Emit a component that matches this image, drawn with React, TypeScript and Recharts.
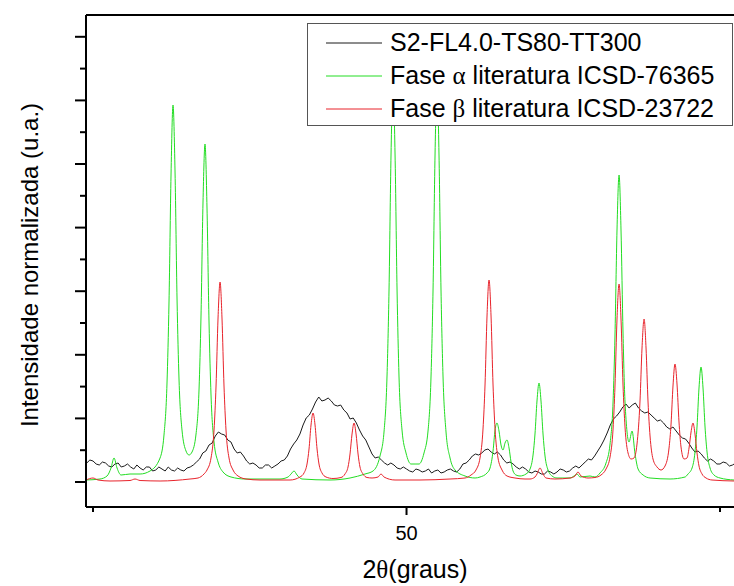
import { LineChart, Line, XAxis, YAxis, Legend, ReferenceLine } from 'recharts';

// measured sample: 2θ (graus) and counts
const blackAngles = [
  44.9, 44.95, 45.0, 45.05, 45.1, 45.15, 45.2, 45.25, 45.3, 45.35,
  45.4, 45.45, 45.5, 45.55, 45.6, 45.65, 45.7, 45.75, 45.8, 45.85,
  45.9, 45.95, 46.0, 46.05, 46.1, 46.15, 46.2, 46.25, 46.3, 46.35,
  46.4, 46.45, 46.5, 46.55, 46.6, 46.65, 46.7, 46.75, 46.8, 46.85,
  46.9, 46.95, 47.0, 47.05, 47.1, 47.15, 47.2, 47.25, 47.3, 47.35,
  47.4, 47.45, 47.5, 47.55, 47.6, 47.65, 47.7, 47.75, 47.8, 47.85,
  47.9, 47.95, 48.0, 48.05, 48.1, 48.15, 48.2, 48.25, 48.3, 48.35,
  48.4, 48.45, 48.5, 48.55, 48.6, 48.65, 48.7, 48.75, 48.8, 48.85,
  48.9, 48.95, 49.0, 49.05, 49.1, 49.15, 49.2, 49.25, 49.3, 49.35,
  49.4, 49.45, 49.5, 49.55, 49.6, 49.65, 49.7, 49.75, 49.8, 49.85,
  49.9, 49.95, 50.0, 50.05, 50.1, 50.15, 50.2, 50.25, 50.3, 50.35,
  50.4, 50.45, 50.5, 50.55, 50.6, 50.65, 50.7, 50.75, 50.8, 50.85,
  50.9, 50.95, 51.0, 51.05, 51.1, 51.15, 51.2, 51.25, 51.3, 51.35,
  51.4, 51.45, 51.5, 51.55, 51.6, 51.65, 51.7, 51.75, 51.8, 51.85,
  51.9, 51.95, 52.0, 52.05, 52.1, 52.15, 52.2, 52.25, 52.3, 52.35,
  52.4, 52.45, 52.5, 52.55, 52.6, 52.65, 52.7, 52.75, 52.8, 52.85,
  52.9, 52.95, 53.0, 53.05, 53.1, 53.15, 53.2, 53.25, 53.3, 53.35,
  53.4, 53.45, 53.5, 53.55, 53.6, 53.65, 53.7, 53.75, 53.8, 53.85,
  53.9, 53.95, 54.0, 54.05, 54.1, 54.15, 54.2, 54.25, 54.3, 54.35,
  54.4, 54.45, 54.5, 54.55, 54.6, 54.65, 54.7, 54.75, 54.8, 54.85,
  54.9, 54.95, 55.0, 55.05, 55.1, 55.15, 55.2, 55.25, 55.3,
];
const blackIntensity = [
  19, 22, 21, 18, 17, 20, 19, 16, 15, 18,
  19, 15, 16, 18, 15, 13, 17, 14, 12, 15,
  15, 11, 12, 15, 13, 11, 15, 12, 11, 14,
  12, 11, 14, 15, 17, 20, 23, 29, 31, 37,
  39, 46, 50, 48, 47, 42, 40, 33, 29, 30,
  26, 21, 18, 19, 17, 14, 14, 17, 17, 14,
  16, 18, 21, 22, 26, 33, 38, 42, 48, 57,
  64, 67, 73, 80, 85, 81, 82, 84, 81, 77,
  76, 77, 72, 69, 63, 64, 59, 52, 46, 42,
  35, 28, 24, 25, 22, 19, 17, 19, 17, 14,
  13, 15, 13, 11, 10, 13, 12, 10, 11, 13,
  9, 11, 12, 9, 10, 12, 13, 11, 10, 13,
  18, 19, 22, 26, 28, 27, 29, 32, 33, 30,
  28, 30, 27, 22, 19, 20, 18, 15, 13, 15,
  13, 10, 9, 11, 10, 8, 8, 11, 10, 8,
  10, 13, 12, 10, 11, 14, 16, 14, 17, 20,
  23, 22, 26, 31, 36, 42, 49, 57, 63, 66,
  70, 75, 78, 74, 77, 79, 74, 71, 69, 70,
  67, 64, 61, 62, 59, 55, 53, 55, 51, 47,
  44, 43, 39, 34, 30, 31, 28, 24, 21, 23,
  21, 18, 18, 20, 19, 16, 17, 19, 19,
];

// fase alfa, ICSD-76365
const alphaAngles = [
  44.888, 45.112, 45.223, 45.287, 45.335, 45.383, 45.447, 45.59, 45.75, 45.909,
  46.069, 46.132, 46.18, 46.212, 46.244, 46.276, 46.308, 46.34, 46.372, 46.419,
  46.483, 46.531, 46.579, 46.643, 46.691, 46.722, 46.754, 46.786, 46.818, 46.85,
  46.882, 46.93, 46.994, 47.073, 47.201, 47.424, 47.982, 48.11, 48.158, 48.206,
  48.254, 48.333, 48.78, 49.099, 49.338, 49.466, 49.577, 49.641, 49.689, 49.721,
  49.753, 49.785, 49.817, 49.849, 49.88, 49.928, 49.992, 50.072, 50.136, 50.199,
  50.279, 50.343, 50.391, 50.423, 50.455, 50.486, 50.518, 50.55, 50.582, 50.63,
  50.694, 50.774, 50.933, 51.093, 51.172, 51.284, 51.332, 51.38, 51.412, 51.443,
  51.475, 51.507, 51.539, 51.571, 51.603, 51.635, 51.667, 51.699, 51.746, 51.81,
  51.906, 51.97, 52.018, 52.049, 52.081, 52.113, 52.145, 52.177, 52.209, 52.257,
  52.321, 52.4, 52.608, 52.671, 52.719, 52.767, 52.927, 53.006, 53.086, 53.182,
  53.246, 53.294, 53.325, 53.357, 53.39, 53.421, 53.453, 53.485, 53.549, 53.597,
  53.645, 53.693, 53.773, 53.884, 54.203, 54.442, 54.49, 54.554, 54.601, 54.633,
  54.665, 54.697, 54.729, 54.761, 54.793, 54.841, 54.904, 55.0, 55.223,
];
const alphaIntensity = [
  2, 3, 6, 14, 24, 14, 7, 8, 8, 11,
  24, 47, 99, 180, 307, 377, 310, 183, 102, 52,
  31, 27, 30, 48, 93, 165, 279, 338, 274, 160,
  87, 40, 20, 10, 5, 3, 3, 5, 8, 11,
  7, 3, 2, 4, 8, 11, 26, 50, 106, 192,
  328, 400, 328, 192, 106, 52, 29, 18, 18, 18,
  29, 51, 106, 192, 328, 400, 328, 192, 106, 50,
  24, 12, 6, 4, 5, 9, 14, 31, 52, 59,
  51, 37, 32, 39, 42, 34, 20, 11, 7, 6,
  8, 13, 27, 48, 81, 99, 81, 48, 26, 12,
  6, 4, 4, 6, 8, 5, 6, 5, 9, 19,
  38, 80, 147, 252, 307, 252, 149, 80, 40, 51,
  28, 13, 7, 4, 3, 5, 8, 14, 30, 55,
  94, 115, 94, 55, 30, 14, 7, 4, 2,
];

// fase beta, ICSD-23722
const betaAngles = [
  44.888, 45.0, 45.08, 45.271, 45.59, 45.67, 45.75, 46.069, 46.547, 46.675,
  46.77, 46.818, 46.882, 46.93, 46.962, 46.994, 47.026, 47.057, 47.089, 47.121,
  47.169, 47.233, 47.313, 47.44, 47.663, 48.142, 48.301, 48.365, 48.413, 48.445,
  48.477, 48.509, 48.541, 48.573, 48.604, 48.652, 48.716, 48.828, 48.955, 49.019,
  49.067, 49.099, 49.131, 49.163, 49.195, 49.227, 49.258, 49.306, 49.37, 49.45,
  49.546, 49.593, 49.641, 49.817, 50.215, 50.694, 50.933, 51.029, 51.108, 51.172,
  51.22, 51.252, 51.284, 51.316, 51.348, 51.38, 51.412, 51.459, 51.523, 51.603,
  51.73, 51.89, 51.97, 52.049, 52.081, 52.129, 52.177, 52.225, 52.368, 52.608,
  52.687, 52.735, 52.783, 52.895, 53.006, 53.102, 53.182, 53.246, 53.294, 53.325,
  53.357, 53.39, 53.421, 53.453, 53.485, 53.533, 53.581, 53.628, 53.676, 53.724,
  53.756, 53.789, 53.82, 53.852, 53.884, 53.931, 53.995, 54.059, 54.123, 54.187,
  54.219, 54.25, 54.282, 54.314, 54.346, 54.378, 54.426, 54.474, 54.506, 54.538,
  54.569, 54.601, 54.633, 54.665, 54.713, 54.777, 54.872, 55.223,
];
const betaIntensity = [
  2, 4, 2, 1, 1.5, 3, 1.5, 1, 3, 4,
  8, 12, 24, 52, 96, 164, 200, 164, 96, 52,
  24, 12, 6, 3, 2, 2, 5, 9, 18, 33,
  57, 69, 57, 33, 18, 9, 5, 3.5, 4.5, 8,
  15, 28, 48, 59, 48, 28, 15, 8, 4.5, 4,
  5, 8, 5, 2, 2, 3, 4, 7, 12, 24,
  53, 97, 166, 202, 166, 97, 53, 24, 12, 6,
  4, 3, 3, 5, 8, 14, 8, 4, 3, 4,
  6, 10, 6, 4, 4.5, 7, 13, 25, 53, 96,
  163, 198, 163, 97, 55, 29, 23, 24, 38, 81,
  134, 163, 134, 80, 46, 23, 15, 12, 16, 34,
  58, 96, 118, 98, 60, 35, 23, 24, 34, 50,
  59, 48, 29, 16, 8, 4, 2, 1,
];

const seriesNames = [
  'S2-FL4.0-TS80-TT300',
  'Fase α literatura ICSD-76365',
  'Fase β literatura ICSD-23722',
];
const seriesColors = ['#1a1a1a', '#22dd22', '#e8232b'];

const xTicks = [45, 50, 55];
const xTickLabels = ['', '50', ''];
const yTicks = [0, 31.8, 63.6, 95.4, 127.2, 159, 190.8, 222.6, 254.4, 286.2, 318, 349.8, 381.6, 413.4, 445.2];

const FONT = '"Liberation Sans", Arial, sans-serif';
const GREEK = '"Liberation Serif", "DejaVu Serif", serif';

const toPoints = (xs: number[], ys: number[]) => xs.map((x, i) => ({ x, y: ys[i] }));
const blackData = toPoints(blackAngles, blackIntensity);
const alphaData = toPoints(alphaAngles, alphaIntensity);
const betaData = toPoints(betaAngles, betaIntensity);

function withGreek(text: string) {
  return text.split(/([αβθ])/).map((part, i) =>
    /[αβθ]/.test(part) ? (
      <span key={i} style={{ fontFamily: GREEK }}>{part}</span>
    ) : (
      <span key={i}>{part}</span>
    )
  );
}

function XTick(props: any) {
  const { x, y, index } = props;
  const label = xTickLabels[index];
  return (
    <g>
      <line x1={x} x2={x} y1={y} y2={y + (label ? 8 : 5)} stroke="#000" strokeWidth={2} />
      {label && (
        <text x={x} y={y + 33} textAnchor="middle" fontSize={20} fontFamily={FONT} fill="#000">
          {label}
        </text>
      )}
    </g>
  );
}

function YTick(props: any) {
  const { x, y, index } = props;
  const len = index % 2 === 0 ? 11 : 6;
  return <line x1={x - len} x2={x} y1={y} y2={y} stroke="#000" strokeWidth={2} />;
}

function LegendBox() {
  return (
    <div
      style={{
        boxSizing: 'border-box',
        width: 426,
        height: 103,
        border: '1px solid #555',
        background: '#fff',
        paddingTop: 2,
      }}
    >
      {seriesNames.map((name, i) => (
        <div key={name} style={{ display: 'flex', alignItems: 'center', height: 33 }}>
          <svg width={56} height={4} style={{ marginLeft: 18, marginRight: 8, flex: 'none' }}>
            <line x1={0} x2={56} y1={2} y2={2} stroke={seriesColors[i]} strokeWidth={1} />
          </svg>
          <span style={{ fontFamily: FONT, fontSize: 25, lineHeight: '33px', color: '#000', whiteSpace: 'nowrap' }}>
            {withGreek(name)}
          </span>
        </div>
      ))}
    </div>
  );
}

export default function App() {
  return (
    <div style={{ position: 'absolute', left: 0, top: 0, width: 734, height: 586, background: '#fff', overflow: 'hidden' }}>
      <LineChart width={734} height={586} margin={{ top: 15, right: 0, bottom: 0, left: 0 }}>
        <XAxis
          type="number"
          dataKey="x"
          domain={[44.888, 55.223]}
          allowDataOverflow
          ticks={xTicks}
          interval={0}
          tickSize={0}
          tickMargin={0}
          tickLine={false}
          tick={(p: any) => <XTick {...p} />}
          axisLine={{ stroke: '#000', strokeWidth: 2 }}
          height={79}
        />
        <YAxis
          type="number"
          domain={[-25, 467]}
          allowDataOverflow
          ticks={yTicks}
          interval={0}
          tickSize={0}
          tickMargin={0}
          tickLine={false}
          tick={(p: any) => <YTick {...p} />}
          axisLine={{ stroke: '#000', strokeWidth: 2 }}
          width={86}
        />
        <ReferenceLine y={467} stroke="#000" strokeWidth={2} />
        <Line data={blackData} dataKey="y" name={seriesNames[0]} type="linear" stroke={seriesColors[0]} strokeWidth={1} dot={false} isAnimationActive={false} />
        <Line data={alphaData} dataKey="y" name={seriesNames[1]} type="monotone" stroke={seriesColors[1]} strokeWidth={1} dot={false} isAnimationActive={false} />
        <Line data={betaData} dataKey="y" name={seriesNames[2]} type="monotone" stroke={seriesColors[2]} strokeWidth={1} dot={false} isAnimationActive={false} />
        <Legend
          layout="horizontal"
          verticalAlign="middle"
          align="center"
          wrapperStyle={{ left: 307, top: 23, width: 426, height: 103 }}
          content={() => <LegendBox />}
        />
      </LineChart>
      <div
        style={{
          position: 'absolute',
          left: 30,
          top: 265,
          transform: 'translate(-50%, -50%) rotate(-90deg)',
          fontFamily: FONT,
          fontSize: 24,
          lineHeight: '28px',
          whiteSpace: 'nowrap',
          color: '#000',
        }}
      >
        Intensidade normalizada (u.a.)
      </div>
      <div
        style={{
          position: 'absolute',
          left: 415,
          top: 555,
          transform: 'translateX(-50%)',
          fontFamily: FONT,
          fontSize: 25,
          whiteSpace: 'nowrap',
          color: '#000',
        }}
      >
        {withGreek('2θ(graus)')}
      </div>
    </div>
  );
}
